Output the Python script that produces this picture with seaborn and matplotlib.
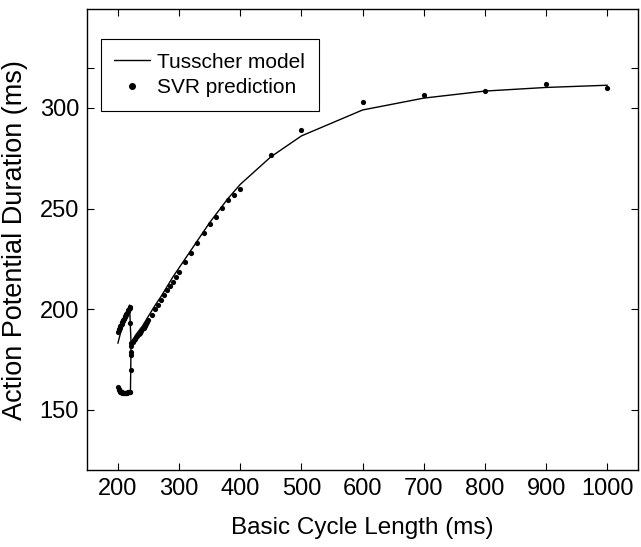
import matplotlib
matplotlib.use('Agg')
import numpy as np
import pandas as pd
import seaborn as sns
import matplotlib.pyplot as plt
from matplotlib.lines import Line2D

# Tusscher model curve (main branch, incl. upper alternans branch)
bcl_model = [200, 205, 210, 215, 219, 221.5, 225, 230, 240, 250, 260, 270, 280, 290,
             300, 310, 320, 330, 340, 350, 360, 370, 380, 390, 400, 450, 500, 600,
             700, 800, 900, 1000]
apd_model = [183, 189, 194, 198, 202, 183, 185, 187.5, 191.5, 196.5, 201.5, 206, 211, 216,
             220.5, 225, 229.5, 234, 238.5, 243, 247, 251, 255, 258.5, 262, 275.7, 286.1, 299,
             304.9, 308.4, 310.2, 311.3]

# Tusscher model, lower alternans branch
bcl_alt = [200, 201, 203, 206, 210, 215, 219, 220.5, 221, 221.5]
apd_alt = [161, 160, 159, 158.6, 158.4, 158.4, 158.6, 159, 170, 183]

# SVR prediction points
svr_bcl_upper = [200, 201, 202, 203, 204, 205, 206, 207, 208, 209, 210,
                 211, 212, 213, 214, 215, 216, 217, 218, 219, 220, 220.5]
svr_apd_upper = [188.5, 189.5, 190, 190.8, 191.5, 192, 192.8, 193.5, 194, 194.8, 195.3,
                 196, 196.6, 197.2, 197.8, 198.3, 198.9, 199.4, 199.9, 200.3, 200.8, 193]

svr_bcl_lower = [200, 201, 202, 203, 204, 205, 206, 207, 208, 209, 210,
                 211, 212, 213, 214, 215, 216, 217, 218, 219, 220,
                 221, 221, 221, 221]
svr_apd_lower = [161.2, 160.3, 159.6, 159.2, 158.9, 158.7, 158.6, 158.5, 158.5, 158.4, 158.4,
                 158.4, 158.4, 158.5, 158.5, 158.5, 158.6, 158.6, 158.7, 158.8, 159.0,
                 169.5, 177, 178.5, 181.5]

svr_bcl_main = [222, 224, 226, 228, 230, 232, 234, 236, 238, 240, 242, 244, 246, 248, 250,
                255, 260, 265, 270, 275, 280, 285, 290, 295, 300, 310, 320, 330, 340, 350,
                360, 370, 380, 390, 400, 450, 500, 600, 700, 800, 900, 1000]
svr_apd_main = [183.2, 183.8, 184.5, 185.3, 186, 186.8, 187.5, 188.3, 189.2, 190, 190.8,
                191.6, 192.5, 193.4, 194.5, 197.2, 199.8, 202, 204.5, 207, 209.5, 211.5,
                213.6, 215.8, 218.3, 223.2, 228, 233, 237.8, 242.1, 245.9, 250.2, 254.2,
                256.6, 259.6, 276.5, 289, 303, 306.3, 308.5, 311.8, 310]

x_ticks = [200, 300, 400, 500, 600, 700, 800, 900, 1000]
y_ticks = [150, 200, 250, 300, 320]
y_tick_labels = ['150', '200', '250', '300', '']

model_df = pd.concat([
    pd.DataFrame({'bcl': bcl_model, 'apd': apd_model, 'branch': 'main'}),
    pd.DataFrame({'bcl': bcl_alt, 'apd': apd_alt, 'branch': 'alt'}),
])
svr_df = pd.DataFrame({
    'bcl': svr_bcl_upper + svr_bcl_lower + svr_bcl_main,
    'apd': svr_apd_upper + svr_apd_lower + svr_apd_main,
})

sns.set_style('ticks')
plt.rcParams['font.family'] = ['Liberation Sans', 'DejaVu Sans']
for k in ['text.color', 'axes.labelcolor', 'xtick.color', 'ytick.color']:
    plt.rcParams[k] = 'black'

fig = plt.figure(figsize=(6.41, 5.47), dpi=100)
ax = fig.add_axes([0.1362, 0.1408, 0.859, 0.842])

sns.lineplot(data=model_df, x='bcl', y='apd', units='branch', estimator=None,
             sort=False, color='black', linewidth=1.0, ax=ax)
sns.scatterplot(data=svr_df, x='bcl', y='apd', color='black', s=14,
                linewidth=0, ax=ax)

ax.set_xlim(150, 1050)
ax.set_ylim(120, 349)
ax.set_xticks(x_ticks)
ax.set_yticks(y_ticks)
ax.set_yticklabels(y_tick_labels)
ax.tick_params(direction='in', length=5, width=0.8, labelsize=17,
               top=True, right=True, pad=6)
for s in ax.spines.values():
    s.set_linewidth(1.0)
    s.set_color('black')

ax.set_xlabel('Basic Cycle Length (ms)', fontsize=17.5, labelpad=12)
ax.set_ylabel('Action Potential Duration (ms)', fontsize=19.5, labelpad=8)

handles = [Line2D([], [], color='black', linewidth=1.0),
           Line2D([], [], color='black', marker='o', linestyle='', markersize=4)]
leg = ax.legend(handles, ['Tusscher model', 'SVR prediction'], loc='upper left',
                bbox_to_anchor=(0.024, 0.936), borderaxespad=0, fontsize=15,
                frameon=True, fancybox=False, edgecolor='black', framealpha=1,
                handlelength=1.7, labelspacing=0.32, borderpad=0.66,
                handletextpad=0.35)
leg.get_frame().set_linewidth(0.8)

fig.savefig('out.png', dpi=100)
